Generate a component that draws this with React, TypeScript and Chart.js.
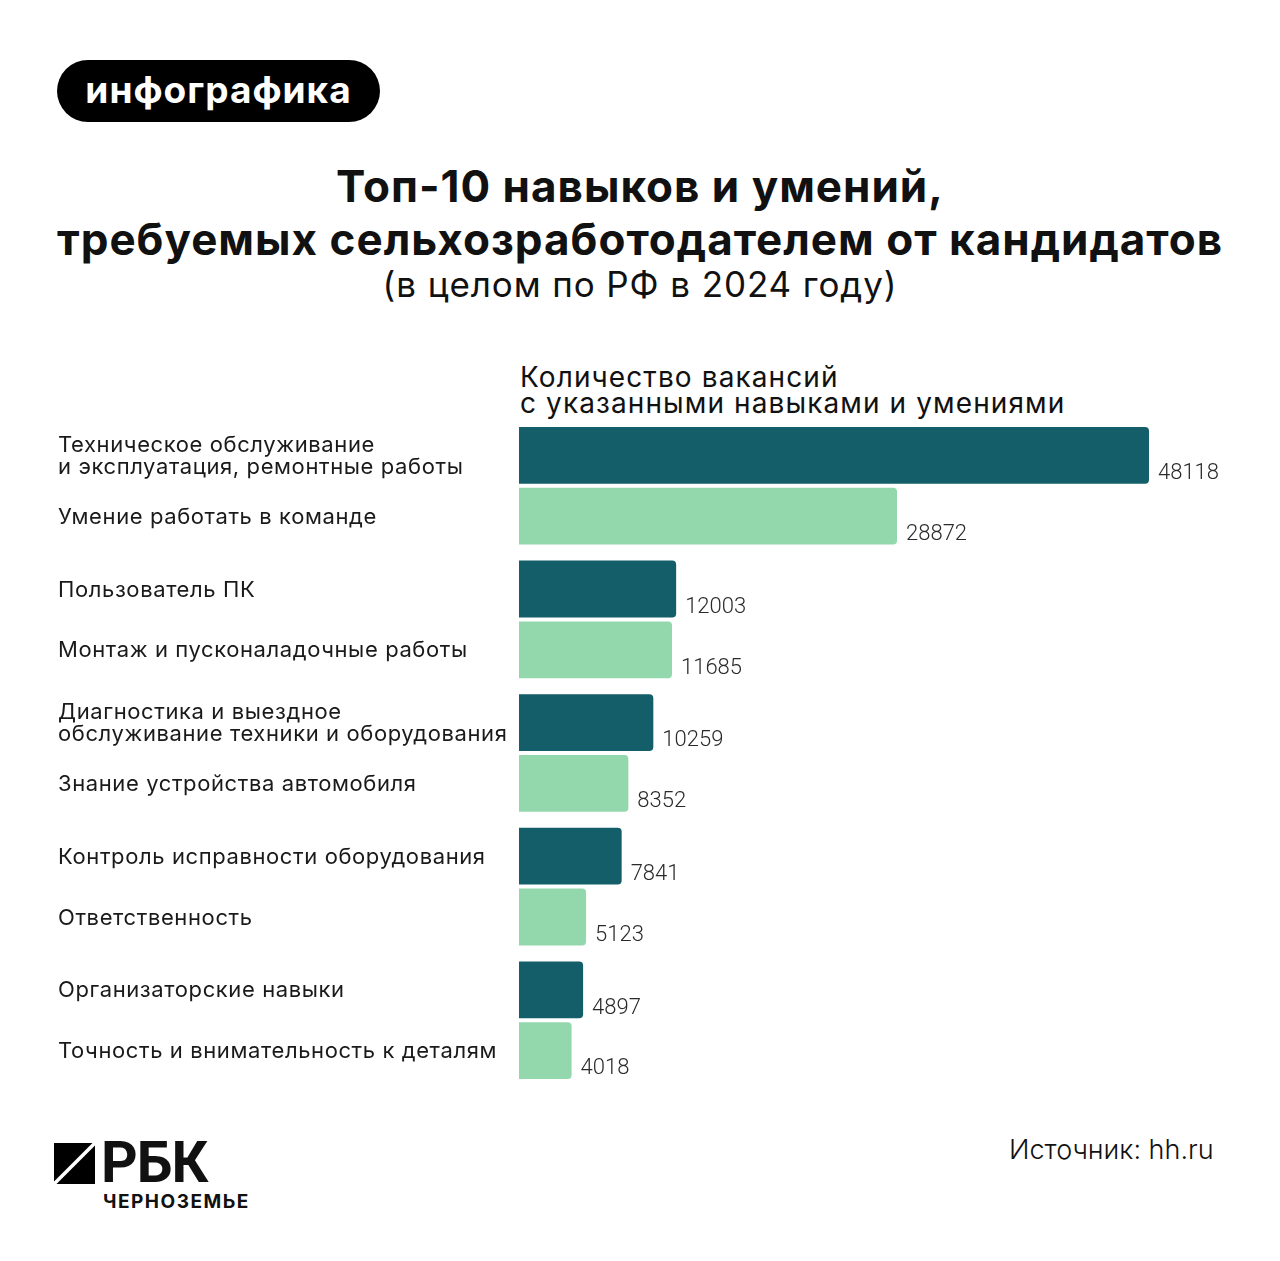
import React, { useEffect, useRef } from "react";
import { Chart, registerables } from "chart.js";

Chart.register(...registerables);

const groups = ["1", "2", "3", "4", "5"];
const darkLabels = [
  "Техническое обслуживание\nи эксплуатация, ремонтные работы",
  "Пользователь ПК",
  "Диагностика и выездное\nобслуживание техники и оборудования",
  "Контроль исправности оборудования",
  "Организаторские навыки",
];
const darkValues = [48118, 12003, 10259, 7841, 4897];
const lightLabels = [
  "Умение работать в команде",
  "Монтаж и пусконаладочные работы",
  "Знание устройства автомобиля",
  "Ответственность",
  "Точность и внимательность к деталям",
];
const lightValues = [28872, 11685, 8352, 5123, 4018];

const DARK = "#135e68";
const LIGHT = "#93d7ad";
const FONT = "Inter, Roboto, sans-serif";
const NUMFONT = "Roboto, sans-serif";

const labelPlugin = {
  id: "barLabels",
  afterDatasetsDraw(chart: any) {
    const ctx = chart.ctx;
    const allLabels = [darkLabels, lightLabels];
    chart.data.datasets.forEach((ds: any, di: number) => {
      const meta = chart.getDatasetMeta(di);
      meta.data.forEach((el: any, i: number) => {
        const props = el.getProps(["x", "y", "height"], true);
        ctx.save();
        ctx.fillStyle = "#1a1a1a";
        ctx.font = `400 22px ${FONT}`;
        (ctx as any).letterSpacing = "0.6px";
        ctx.textAlign = "left";
        ctx.textBaseline = "middle";
        const lines = allLabels[di][i].split("\n");
        const lh = 22;
        const y0 = props.y + 1 - ((lines.length - 1) * lh) / 2;
        lines.forEach((ln: string, k: number) => {
          ctx.fillText(ln, 58, y0 + k * lh);
        });
        (ctx as any).letterSpacing = "0px";
        ctx.fillStyle = "#2a2a2a";
        ctx.font = `300 22px ${NUMFONT}`;
        ctx.fillText(String(ds.data[i]), props.x + 9, props.y + props.height / 2 - 10);
        ctx.restore();
      });
    });
  },
};

export default function App() {
  const ref = useRef<HTMLCanvasElement>(null);
  useEffect(() => {
    if (!ref.current) return;
    const chart = new Chart(ref.current, {
      type: "bar",
      data: {
        labels: groups,
        datasets: [
          {
            data: darkValues,
            backgroundColor: DARK,
            borderRadius: 4,
            categoryPercentage: 0.91,
            barPercentage: 0.934,
          },
          {
            data: lightValues,
            backgroundColor: LIGHT,
            borderRadius: 4,
            categoryPercentage: 0.91,
            barPercentage: 0.934,
          },
        ],
      },
      options: {
        indexAxis: "y",
        animation: false,
        responsive: false,
        maintainAspectRatio: false,
        layout: { padding: { left: 519, right: 131, top: 19, bottom: 13 } },
        scales: {
          x: { display: false, min: 0, max: 48118 },
          y: { display: false },
        },
        plugins: { legend: { display: false }, tooltip: { enabled: false } },
      },
      plugins: [labelPlugin],
    });
    return () => chart.destroy();
  }, []);

  return (
    <div
      style={{
        position: "absolute",
        left: 0,
        top: 0,
        width: 1280,
        height: 1261,
        background: "#fff",
        overflow: "hidden",
        fontFamily: FONT,
        color: "#111",
      }}
    >
      <div
        style={{
          position: "absolute",
          left: 57,
          top: 60,
          width: 323,
          height: 62,
          borderRadius: 31,
          background: "#000",
          color: "#fff",
          fontWeight: 700,
          fontSize: 37,
          letterSpacing: 1,
          lineHeight: "60px",
          textAlign: "center",
        }}
      >
        инфографика
      </div>
      <div
        style={{
          position: "absolute",
          left: 0,
          width: 1280,
          top: 160,
          textAlign: "center",
          fontWeight: 700,
          fontSize: 44,
          letterSpacing: 1,
          lineHeight: "53px",
          color: "#111",
        }}
      >
        Топ-10 навыков и умений,
        <br />
        требуемых сельхозработодателем от кандидатов
      </div>
      <div
        style={{
          position: "absolute",
          left: 0,
          width: 1280,
          top: 262,
          textAlign: "center",
          fontWeight: 400,
          fontSize: 35,
          letterSpacing: 0.9,
          lineHeight: "44px",
          color: "#111",
        }}
      >
        (в целом по РФ в 2024 году)
      </div>
      <div
        style={{
          position: "absolute",
          left: 520,
          top: 364,
          fontSize: 28,
          letterSpacing: 1.1,
          lineHeight: "26px",
          color: "#111",
        }}
      >
        Количество вакансий
        <br />
        с указанными навыками и умениями
      </div>
      <canvas
        ref={ref}
        width={1280}
        height={700}
        style={{ position: "absolute", left: 0, top: 400, width: 1280, height: 700 }}
      />
      <svg
        style={{ position: "absolute", left: 54, top: 1143 }}
        width={41}
        height={41}
        viewBox="0 0 41 41"
      >
        <rect x={0} y={0} width={41} height={41} fill="#000" />
        <line x1={-2} y1={43} x2={43} y2={-2} stroke="#fff" strokeWidth={3.5} />
      </svg>
      <div
        style={{
          position: "absolute",
          left: 101,
          top: 1130,
          fontSize: 57,
          fontWeight: 700,
          lineHeight: "66px",
          color: "#111",
          letterSpacing: -1,
          fontFamily: NUMFONT,
        }}
      >
        РБК
      </div>
      <div
        style={{
          position: "absolute",
          left: 103,
          top: 1190,
          fontSize: 19,
          fontWeight: 700,
          letterSpacing: 1.5,
          lineHeight: "24px",
          color: "#111",
        }}
      >
        ЧЕРНОЗЕМЬЕ
      </div>
      <div
        style={{
          position: "absolute",
          left: 1009,
          top: 1133,
          fontSize: 27,
          fontWeight: 300,
          lineHeight: "34px",
          color: "#111",
        }}
      >
        Источник: hh.ru
      </div>
    </div>
  );
}
